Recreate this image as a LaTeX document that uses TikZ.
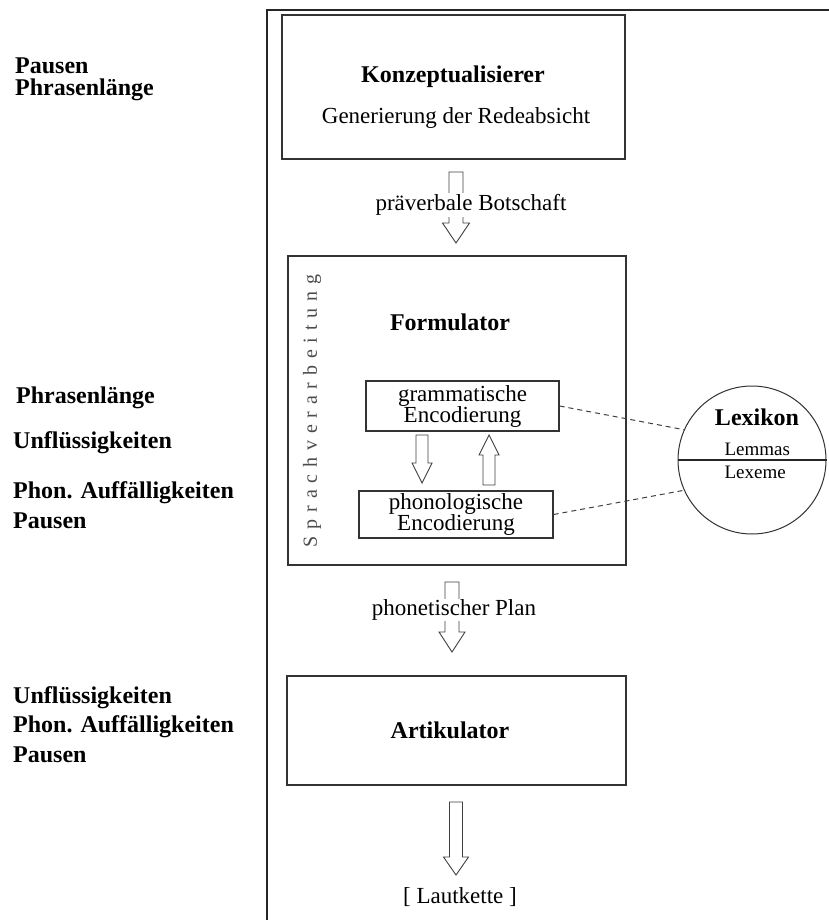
\documentclass[tikz,border=0pt]{standalone}
\usepackage{fontspec}
\setmainfont{Liberation Serif}
\newfontfamily\spacedfont[LetterSpace=34]{Liberation Serif}
\newcommand{\reg}{\fontsize{23}{21}\selectfont}
\newcommand{\bld}{\fontsize{24}{26}\selectfont\bfseries}
\newcommand{\hollowdown}[6]{% x, ytop, ybottom, shaft half, head half, head length
  \draw[arrowline] (#1-#4,#2) -- (#1+#4,#2) -- (#1+#4,#3-#6) -- (#1+#5,#3-#6) -- (#1,#3) -- (#1-#5,#3-#6) -- (#1-#4,#3-#6) -- cycle;}
\newcommand{\hollowup}[6]{% x, ybottom, ytop, shaft half, head half, head length
  \draw[arrowline] (#1-#4,#2) -- (#1+#4,#2) -- (#1+#4,#3+#6) -- (#1+#5,#3+#6) -- (#1,#3) -- (#1-#5,#3+#6) -- (#1-#4,#3+#6) -- cycle;}
\tikzset{
  frameline/.style={line width=1.3pt, black!85},
  boxstyle/.style={draw=black!80, line width=1.2pt, inner sep=0pt},
  arrowline/.style={draw=black!75, line width=0.9pt, fill=white, line join=miter},
  leftlabel/.style={anchor=west, inner sep=0pt, font=\bld, align=left},
  dashline/.style={draw=black!75, line width=1pt, dash pattern=on 5pt off 4pt},
  arrowtext/.style={fill=white, inner sep=1pt, font=\reg}
}
\begin{document}
\begin{tikzpicture}[x=1pt,y=-1pt]
\useasboundingbox (0,0) rectangle (829,920);
% frame
\draw[frameline] (267,920) -- (267,10) -- (829,10);

% left labels
\node[leftlabel] (l1) at (15,66) {Pausen};
\node[leftlabel] (l2) at (15,90) {Phrasenlänge};
\node[leftlabel] (l3) at (16,398) {Phrasenlänge};
\node[leftlabel] (l4) at (13,443) {Unflüssigkeiten};
\node[leftlabel] (l5) at (13,493) {Phon. Auffälligkeiten};
\node[leftlabel] (l6) at (13,521) {Pausen};
\node[leftlabel] (l7) at (13,698) {Unflüssigkeiten};
\node[leftlabel] (l8) at (13,727) {Phon. Auffälligkeiten};
\node[leftlabel] (l9) at (13,755) {Pausen};

% Konzeptualisierer
\draw[boxstyle] (282,15) rectangle (625,159);
\node[font=\bld] (konz) at (453,77) {Konzeptualisierer};
\node[font=\reg] (gen) at (456,118) {Generierung der Redeabsicht};

% arrow 1
\hollowdown{456}{172}{243}{7}{13.5}{20}
\node[arrowtext] (pb) at (471,205) {präverbale Botschaft};

% Formulator
\draw[boxstyle] (288,256) rectangle (626,565);
\node[rotate=90, font=\fontsize{20}{20}\selectfont\spacedfont, text=black!70] (sv) at (312,411) {Sprachverarbeitung};
\node[font=\bld] (form) at (450,322) {Formulator};
\node[boxstyle, minimum width=193pt, minimum height=50pt, align=center, font=\reg] (gram) at (462.5,406) {grammatische\\Encodierung};
\node[boxstyle, minimum width=194pt, minimum height=47pt, align=center, font=\reg] (phon) at (456,514.5) {phonologische\\Encodierung};
\hollowdown{422}{435}{483}{6}{10}{20}
\hollowup{489}{485}{435}{6}{10}{20}

% Lexikon
\node[draw=black!80, line width=1pt, circle, minimum size=148pt, inner sep=0pt] (lex) at (752,460) {};
\draw[black!85, line width=1.2pt] (lex.west) -- (lex.east);
\node[font=\bld] (lext) at (757,417) {Lexikon};
\node[font=\fontsize{19}{20}\selectfont, anchor=west] (lem) at (721,449) {Lemmas};
\node[font=\fontsize{19}{20}\selectfont, anchor=west] (lxm) at (721,472) {Lexeme};
\draw[dashline] (gram.east) -- (lex.156);
\draw[dashline] (phon.east) -- (lex.204);

% arrow 2
\hollowdown{452}{582}{652}{7}{13}{20}
\node[arrowtext] (pp) at (454,610) {phonetischer Plan};

% Artikulator
\draw[boxstyle] (287,676) rectangle (626,785);
\node[font=\bld] (art) at (450,730) {Artikulator};

% arrow 3
\hollowdown{456}{802}{875}{6.5}{12.5}{18}
\node[font=\reg] (laut) at (460,897) {[ Lautkette ]};
\end{tikzpicture}
\end{document}
